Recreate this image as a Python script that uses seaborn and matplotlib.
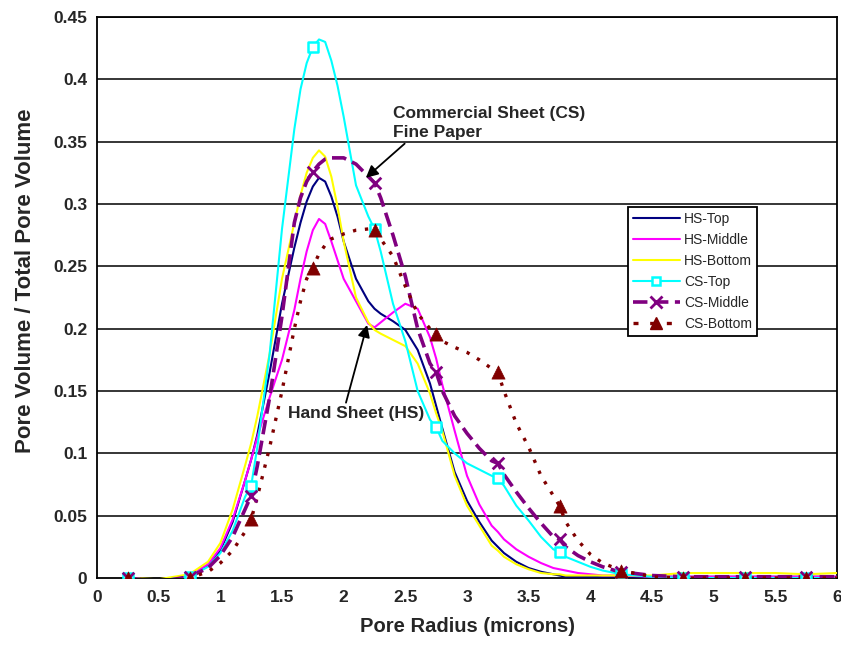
import matplotlib
matplotlib.use("Agg")
import matplotlib.pyplot as plt
from matplotlib.lines import Line2D
import seaborn as sns
import pandas as pd

# ---------------- data ----------------
radius = [0.25, 0.5, 0.75, 0.9, 1.0, 1.1, 1.2, 1.25, 1.3, 1.4, 1.5, 1.6, 1.65, 1.7, 1.75, 1.8, 1.85, 1.9, 1.95,
          2.0, 2.1, 2.2, 2.25, 2.3, 2.4, 2.5, 2.6, 2.7, 2.75, 2.8, 2.9,
          3.0, 3.1, 3.2, 3.25, 3.3, 3.4, 3.5, 3.6, 3.7, 3.75, 3.8, 3.9,
          4.0, 4.1, 4.2, 4.25, 4.5, 4.75, 5.0, 5.25, 5.5, 5.75, 6.0]

hs_top = [0.0, -0.002, 0.002, 0.010, 0.022, 0.045, 0.078, 0.095, 0.115, 0.165, 0.220, 0.265, 0.285, 0.302, 0.314, 0.321, 0.318, 0.306, 0.290,
          0.270, 0.240, 0.222, 0.216, 0.212, 0.206, 0.199, 0.183, 0.156, 0.138, 0.120, 0.085,
          0.062, 0.045, 0.030, 0.025, 0.020, 0.013, 0.008, 0.005, 0.003, 0.002, 0.001, 0.001,
          0.001, 0.001, 0.001, 0.001, 0.001, 0.001, 0.001, 0.001, 0.001, 0.001, 0.001]

hs_middle = [0.0, -0.002, 0.002, 0.011, 0.024, 0.047, 0.078, 0.095, 0.113, 0.145, 0.175, 0.215, 0.240, 0.262, 0.279, 0.288, 0.284, 0.270, 0.255,
             0.240, 0.222, 0.204, 0.201, 0.205, 0.213, 0.220, 0.216, 0.193, 0.176, 0.155, 0.118,
             0.082, 0.059, 0.042, 0.037, 0.031, 0.023, 0.017, 0.012, 0.008, 0.007, 0.006, 0.004,
             0.003, 0.002, 0.002, 0.002, 0.001, 0.001, 0.001, 0.001, 0.001, 0.001, 0.001]

hs_bottom = [0.0, -0.001, 0.003, 0.013, 0.028, 0.055, 0.090, 0.108, 0.130, 0.180, 0.240, 0.285, 0.307, 0.325, 0.337, 0.343, 0.338, 0.322, 0.298,
             0.270, 0.225, 0.205, 0.199, 0.196, 0.191, 0.186, 0.172, 0.148, 0.132, 0.118, 0.082,
             0.058, 0.042, 0.026, 0.022, 0.017, 0.011, 0.007, 0.004, 0.003, 0.003, 0.002, 0.002,
             0.002, 0.002, 0.002, 0.002, 0.002, 0.004, 0.004, 0.004, 0.004, 0.003, 0.004]

cs_top = [0.0, -0.002, 0.001, 0.009, 0.020, 0.038, 0.065, 0.074, 0.105, 0.180, 0.280, 0.360, 0.392, 0.413, 0.426, 0.432, 0.430, 0.415, 0.395,
          0.370, 0.315, 0.290, 0.280, 0.262, 0.220, 0.190, 0.150, 0.127, 0.121, 0.110, 0.100,
          0.092, 0.087, 0.082, 0.080, 0.074, 0.058, 0.046, 0.033, 0.023, 0.021, 0.017, 0.013,
          0.009, 0.006, 0.004, 0.003, 0.001, 0.0, 0.0, 0.0, 0.0, 0.0, 0.0]

cs_middle = [0.0, -0.003, 0.001, 0.008, 0.018, 0.033, 0.055, 0.066, 0.090, 0.145, 0.210, 0.285, 0.305, 0.318, 0.326, 0.332, 0.336, 0.337, 0.337,
             0.337, 0.332, 0.322, 0.317, 0.305, 0.275, 0.242, 0.200, 0.172, 0.165, 0.150, 0.130,
             0.116, 0.104, 0.094, 0.092, 0.083, 0.069, 0.056, 0.044, 0.033, 0.031, 0.025, 0.018,
             0.013, 0.009, 0.006, 0.005, 0.002, 0.001, 0.001, 0.001, 0.001, 0.001, 0.001]

cs_bottom = [0.0, -0.003, 0.0, 0.005, 0.012, 0.022, 0.037, 0.047, 0.065, 0.105, 0.150, 0.200, 0.222, 0.240, 0.249, 0.260, 0.267, 0.272, 0.274,
             0.276, 0.279, 0.280, 0.279, 0.272, 0.258, 0.234, 0.212, 0.200, 0.196, 0.190, 0.185,
             0.181, 0.175, 0.168, 0.165, 0.150, 0.124, 0.105, 0.082, 0.066, 0.058, 0.045, 0.030,
             0.019, 0.012, 0.008, 0.006, 0.001, 0.0, 0.0, 0.0, 0.0, 0.0, 0.0]

marker_radius = [0.25, 0.75, 1.25, 1.75, 2.25, 2.75, 3.25, 3.75, 4.25, 4.75, 5.25, 5.75]

x_ticks = [0, 0.5, 1, 1.5, 2, 2.5, 3, 3.5, 4, 4.5, 5, 5.5, 6]
x_tick_labels = ["0", "0.5", "1", "1.5", "2", "2.5", "3", "3.5", "4", "4.5", "5", "5.5", "6"]
y_ticks = [0, 0.05, 0.1, 0.15, 0.2, 0.25, 0.3, 0.35, 0.4, 0.45]
y_tick_labels = ["0", "0.05", "0.1", "0.15", "0.2", "0.25", "0.3", "0.35", "0.4", "0.45"]

series_names = ["HS-Top", "HS-Middle", "HS-Bottom", "CS-Top", "CS-Middle", "CS-Bottom"]
series_values = [hs_top, hs_middle, hs_bottom, cs_top, cs_middle, cs_bottom]

# ---------------- styles ----------------
styles = {
    "HS-Top":    dict(color="#000080", lw=1.5, ls="-"),
    "HS-Middle": dict(color="#FF00FF", lw=1.5, ls="-"),
    "HS-Bottom": dict(color="#FFFF00", lw=1.5, ls="-"),
    "CS-Top":    dict(color="#00FFFF", lw=1.5, ls="-"),
    "CS-Middle": dict(color="#800080", lw=2.6, ls=(0, (4, 1.8))),
    "CS-Bottom": dict(color="#800000", lw=2.4, ls=(0, (1, 2.6))),
}

frames = []
for name, vals in zip(series_names, series_values):
    frames.append(pd.DataFrame({"radius": radius, "value": vals, "series": name}))
df = pd.concat(frames, ignore_index=True)

sns.set_style("white")
plt.rcParams["font.family"] = ["Liberation Sans", "DejaVu Sans"]

fig = plt.figure(figsize=(8.41, 6.6), dpi=100)
ax = fig.add_axes([97 / 841, 1 - 578 / 660, 740 / 841, 561 / 660])

# gridlines
for yv in y_ticks[1:]:
    ax.axhline(yv, color="black", lw=1.1, zorder=0)

for name in series_names:
    st = styles[name]
    sub = df[df["series"] == name]
    sns.lineplot(data=sub, x="radius", y="value", ax=ax, color=st["color"],
                 linewidth=st["lw"], linestyle=st["ls"], legend=False,
                 estimator=None, sort=False, zorder=3)

# markers for CS series
mk = df[df["radius"].isin(marker_radius)]
sub = mk[mk["series"] == "CS-Top"]
sns.scatterplot(data=sub, x="radius", y="value", ax=ax, marker="s", s=42,
                facecolor="white", edgecolor="#00FFFF", linewidth=1.8, legend=False, zorder=5)
sub = mk[mk["series"] == "CS-Middle"]
sns.scatterplot(data=sub, x="radius", y="value", ax=ax, marker="x", s=70,
                color="#800080", linewidth=2.0, legend=False, zorder=5)
sub = mk[mk["series"] == "CS-Bottom"]
sns.scatterplot(data=sub, x="radius", y="value", ax=ax, marker="^", s=90,
                color="#800000", edgecolor="#800000", linewidth=0.5, legend=False, zorder=6)

ax.set_xlim(0, 6)
ax.set_ylim(0, 0.45)
ax.set_xticks(x_ticks)
ax.set_xticklabels(x_tick_labels, fontweight="bold", fontsize=12.5)
ax.set_yticks(y_ticks)
ax.set_yticklabels(y_tick_labels, fontweight="bold", fontsize=12.5)
ax.tick_params(axis="x", direction="out", length=5, width=1, color="black", pad=4)
ax.tick_params(axis="y", direction="inout", length=8, width=1, color="black", pad=3)
for sp in ax.spines.values():
    sp.set_color("black")
    sp.set_linewidth(1.3)
    sp.set_visible(True)

ax.set_xlabel("Pore Radius (microns)", fontweight="bold", fontsize=14.5, labelpad=8)
ax.set_ylabel("Pore Volume / Total Pore Volume", fontweight="bold", fontsize=16)
ax.yaxis.set_label_coords(-0.083, 0.53)

# annotations
ax.annotate("Commercial Sheet (CS)\nFine Paper", xy=(2.18, 0.321), xytext=(2.40, 0.365),
            fontsize=12.5, fontweight="bold", ha="left", va="center", linespacing=1.4,
            arrowprops=dict(arrowstyle="-|>", color="black", lw=1.3, mutation_scale=18,
                            shrinkA=0, shrinkB=0, relpos=(0.08, 0.0)), zorder=7)
ax.annotate("Hand Sheet (HS)", xy=(2.19, 0.203), xytext=(2.10, 0.132),
            fontsize=12.5, fontweight="bold", ha="center", va="center",
            arrowprops=dict(arrowstyle="-|>", color="black", lw=1.3, mutation_scale=18,
                            shrinkA=0, shrinkB=0, relpos=(0.42, 1.0)), zorder=7)

# legend
handles = []
for name in series_names:
    st = styles[name]
    if name == "CS-Top":
        h = Line2D([], [], color=st["color"], lw=st["lw"], ls=st["ls"], marker="s",
                   markersize=6, markerfacecolor="white", markeredgecolor=st["color"], markeredgewidth=1.8)
    elif name == "CS-Middle":
        h = Line2D([], [], color=st["color"], lw=st["lw"], ls=st["ls"], marker="x",
                   markersize=8, markeredgewidth=2.0)
    elif name == "CS-Bottom":
        h = Line2D([], [], color=st["color"], lw=st["lw"], ls=(0, (1.5, 3.5)), marker="^",
                   markersize=9)
    else:
        h = Line2D([], [], color=st["color"], lw=st["lw"], ls=st["ls"])
    handles.append(h)
leg = ax.legend(handles, series_names, loc="upper left", bbox_to_anchor=(0.7176, 0.661),
                frameon=True, fancybox=False, edgecolor="black", framealpha=1,
                fontsize=10, handlelength=3.4, handletextpad=0.3, labelspacing=0.5,
                borderpad=0.35, borderaxespad=0)
leg.get_frame().set_linewidth(1.3)
leg.set_zorder(8)

fig.savefig("out.png", dpi=100)
